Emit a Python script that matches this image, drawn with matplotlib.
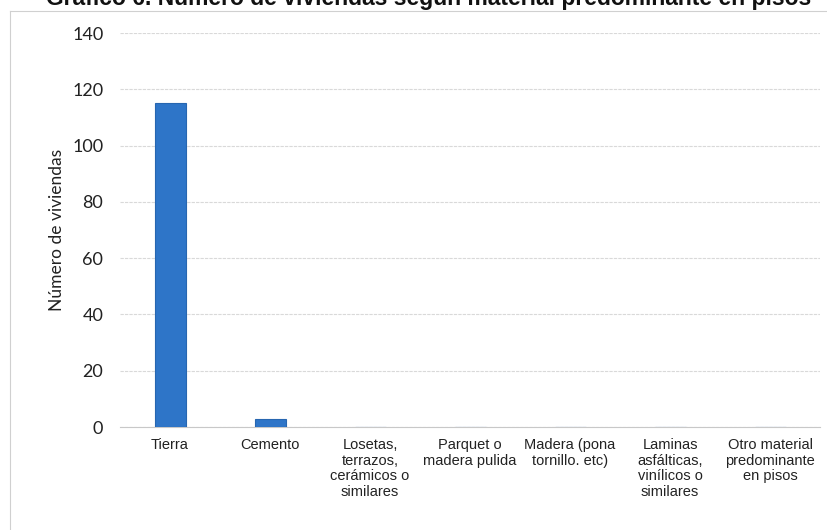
import matplotlib
matplotlib.use("Agg")
import matplotlib.pyplot as plt
from matplotlib.lines import Line2D

categories = ["Tierra", "Cemento", "Losetas,\nterrazos,\ncerámicos o\nsimilares",
              "Parquet o\nmadera pulida", "Madera (pona\ntornillo. etc)",
              "Laminas\nasfálticas,\nvinílicos o\nsimilares",
              "Otro material\npredominante\nen pisos"]
values = [115, 3, 0, 0, 0, 0, 0]
yticks = [0, 20, 40, 60, 80, 100, 120, 140]
title = "Gráfico 6. Número de viviendas según material predominante en pisos"
ylabel = "Número de viviendas"

W, H = 827, 530
fig = plt.figure(figsize=(W/100, H/100), dpi=100)
ax = fig.add_axes([120/W, 1-427/H, 700/W, (427-33)/H])

x = list(range(len(categories)))
ax.bar(x, values, width=0.31, color="#2e75c8", edgecolor="#2766b0", linewidth=0.8, zorder=3)
ax.set_xlim(-0.5, len(categories)-0.5)
ax.set_ylim(0, 140)
ax.set_yticks(yticks)
ax.set_yticklabels([str(t) for t in yticks], fontfamily=["Lato", "DejaVu Sans"], fontsize=13, color="#222222")
ax.set_xticks(x)
ax.set_xticklabels(categories, fontfamily=["Liberation Sans", "DejaVu Sans"], fontsize=10.5,
                   color="#222222", linespacing=1.15)
ax.tick_params(axis="y", length=0, pad=12)
ax.tick_params(axis="x", length=0, pad=8)
for s in ["top", "right", "left"]:
    ax.spines[s].set_visible(False)
ax.spines["bottom"].set_color("#c8c8c8")
ax.grid(axis="y", color="#d9d9d9", linewidth=0.8, linestyle=(0, (3, 1)))
ax.set_axisbelow(True)
ax.set_ylabel(ylabel, fontfamily=["Lato", "DejaVu Sans"], fontsize=12.5, color="#222222", labelpad=5)

fig.text(429/W, 1-5/H, title, ha="center", va="baseline", fontsize=16.5,
         fontweight="bold", fontfamily=["Liberation Sans", "DejaVu Sans"], color="#111111")

fig.add_artist(Line2D([10/W, 10/W], [0, 1-11/H], transform=fig.transFigure, color="#d0d0d0", linewidth=0.8))
fig.add_artist(Line2D([10/W, 1], [1-11/H, 1-11/H], transform=fig.transFigure, color="#d0d0d0", linewidth=0.8))

fig.savefig("out.png", dpi=100)
